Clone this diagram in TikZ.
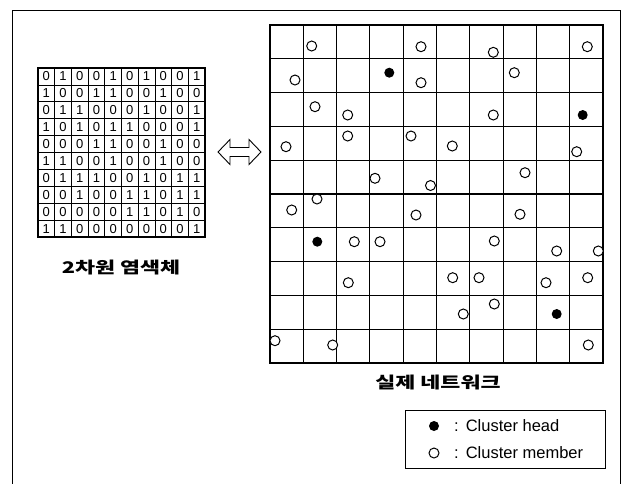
\documentclass[tikz,border=0pt]{standalone}
\usepackage{fontspec}
\setmainfont{Liberation Sans}
\newfontfamily\cjk[FakeStretch=1.36]{Noto Sans CJK KR}
\begin{document}
\begin{tikzpicture}[x=1pt,y=-1pt,
    bit/.style={inner sep=0pt,font=\fontsize{13}{13}\selectfont},
    member/.style={circle,draw,line width=1pt,minimum size=10pt,inner sep=0pt},
    head/.style={circle,fill,minimum size=10pt,inner sep=0pt},
    label/.style={font=\cjk\bfseries\fontsize{16}{16}\selectfont},
    legendtext/.style={anchor=west,inner sep=0pt,font=\fontsize{16.5}{16.5}\selectfont}]
    \useasboundingbox (0,0) rectangle (622,483);
    % frame
    \draw[line width=1pt] (12,490)--(12,10)--(620,10)--(620,490);
    % chromosome
    \foreach \row [count=\r] in {{0,1,0,0,1,0,1,0,0,1},{1,0,0,1,1,0,0,1,0,0},{0,1,1,0,0,0,1,0,0,1},{1,0,1,0,1,1,0,0,0,1},{0,0,0,1,1,0,0,1,0,0},{1,1,0,0,1,0,0,1,0,0},{0,1,1,1,0,0,1,0,1,1},{0,0,1,0,0,1,1,0,1,1},{0,0,0,0,0,1,1,0,1,0},{1,1,0,0,0,0,0,0,0,1}}
        \foreach \b [count=\c] in \row
            \node[bit] (b\r-\c) at (38+16.7*\c-8.35,68+16.9*\r-8.45) {\b};
    \foreach \i in {1,...,9}{
        \draw[line width=0.8pt] (38+16.7*\i,68)--(38+16.7*\i,237);
        \draw[line width=0.8pt] (38,68+16.9*\i)--(205,68+16.9*\i);
    }
    \draw[line width=1.4pt] (38,68) rectangle (205,237);
    \node[label] (chrom) at (121,268) {2차원 염색체};
    % arrow
    \draw[line width=0.9pt] (218,152)--(230,139.5)--(230,147.5)--(249,147.5)--(249,139.5)--(261,152)
        --(249,164.5)--(249,156.5)--(230,156.5)--(230,164.5)--cycle;
    % network
    \foreach \i in {1,...,9}{
        \draw[line width=1.1pt] (270+33.3*\i,25)--(270+33.3*\i,363);
        \draw[line width=1.1pt] (270,25+33.8*\i)--(603,25+33.8*\i);
    }
    \draw[line width=1.3pt] (270,25) rectangle (603,363);
    \foreach \x/\y [count=\n] in {311.7/46,421/46.7,295/80,421/82.7,315/106.7,347.7/115,347.7/136,411/136,286/146.7,375/178.3,430.5/185.5,317/199,493.3/52.3,587.3/46.7,514.3/72.7,493.3/115,452.3/146,576.7/151.7,525/172.7,291.7/210,416/215,354.3/241.7,380/241.7,348.3/282.7,275/340.7,332.7/345,520/214.3,494.3/241,556.7/251,598.3/251,452.7/277.7,479/277.7,546/282.7,587.7/277.7,494.3/304,463.3/314,588.3/345}
        \node[member,fill=white] (m\n) at (\x,\y) {};
    \foreach \x/\y [count=\n] in {389.3/72.7,582.7/115,317.3/241.7,556.7/314}
        \node[head] (h\n) at (\x,\y) {};
    \node[label] (net) at (438,382) {실제 네트워크};
    % legend
    \draw[line width=0.8pt] (405,410) rectangle (605,468);
    \node[head] (lh) at (434,426) {};
    \node[member] (lm) at (434,453) {};
    \node[legendtext] (lht) at (454,426) {:\hspace{7pt}Cluster head};
    \node[legendtext] (lmt) at (454,453) {:\hspace{7pt}Cluster member};
\end{tikzpicture}
\end{document}
